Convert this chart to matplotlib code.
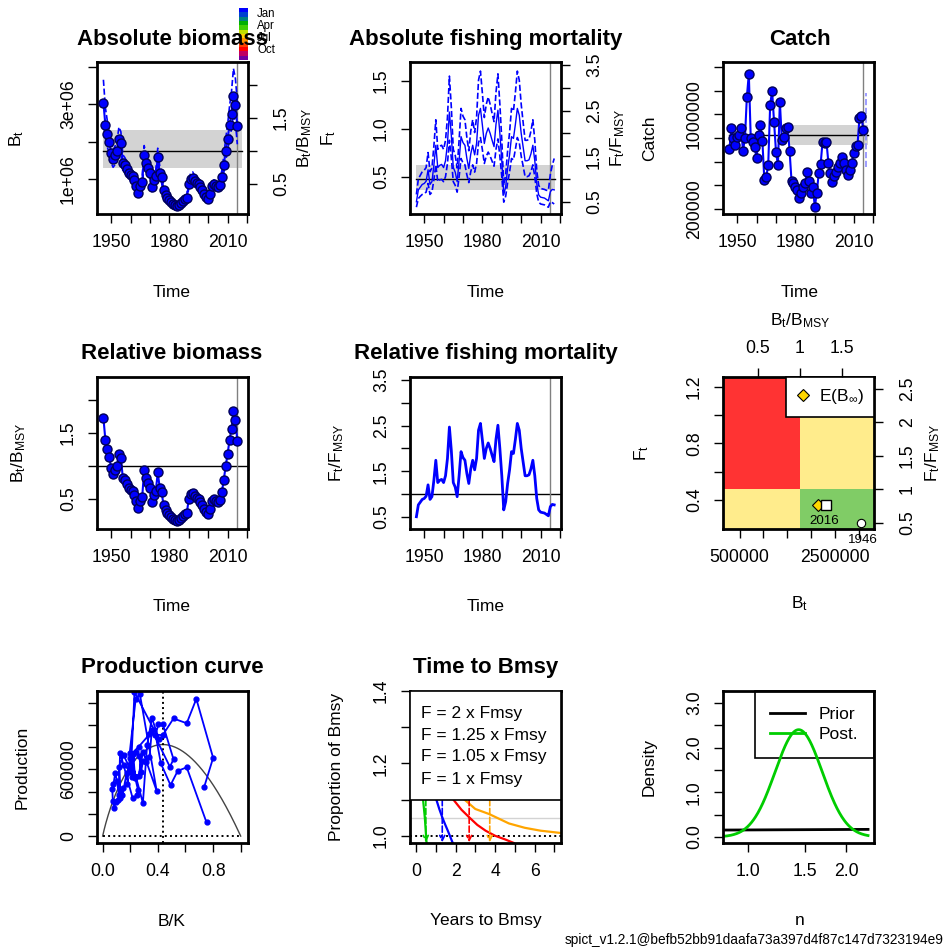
import numpy as np
import matplotlib
matplotlib.use('Agg')
import matplotlib.pyplot as plt
from matplotlib.lines import Line2D
from matplotlib.ticker import NullLocator

plt.rcParams['font.family'] = ['Liberation Sans', 'DejaVu Sans']
plt.rcParams['mathtext.fontset'] = 'custom'
plt.rcParams['mathtext.rm'] = 'Liberation Sans'
plt.rcParams['mathtext.it'] = 'Liberation Sans:italic'
plt.rcParams['mathtext.bf'] = 'Liberation Sans:bold'

W, H = 946, 949

# ---- data ----
years = np.arange(1946, 2016)
years_f = np.arange(1946, 2018)

# B/Bmsy estimate and CI
rel_b = [1.73, 1.40, 1.25, 1.13, 0.97, 0.88, 0.93, 1.00, 1.18, 1.12,
         0.82, 0.78, 0.73, 0.67, 0.64, 0.61, 0.55, 0.46, 0.36, 0.47,
         0.53, 0.94, 0.82, 0.74, 0.67, 0.45, 0.55, 0.62, 0.90, 0.67,
         0.60, 0.40, 0.33, 0.29, 0.25, 0.22, 0.19, 0.17, 0.16, 0.18,
         0.21, 0.24, 0.27, 0.29, 0.50, 0.57, 0.59, 0.54, 0.51, 0.49,
         0.45, 0.41, 0.34, 0.30, 0.27, 0.35, 0.47, 0.49, 0.46, 0.45,
         0.48, 0.60, 0.78, 1.00, 1.18, 1.40, 1.56, 1.84, 1.69, 1.38]
rel_b_hi = [2.08, 1.66, 1.46, 1.31, 1.12, 1.01, 1.07, 1.15, 1.36, 1.29,
            0.94, 0.90, 0.84, 0.77, 0.74, 0.70, 0.63, 0.53, 0.41, 0.54,
            0.61, 1.08, 0.94, 0.85, 0.77, 0.52, 0.63, 0.71, 1.04, 0.77,
            0.69, 0.46, 0.38, 0.33, 0.29, 0.25, 0.22, 0.20, 0.18, 0.21,
            0.24, 0.28, 0.31, 0.33, 0.58, 0.66, 0.68, 0.62, 0.59, 0.56,
            0.52, 0.47, 0.39, 0.35, 0.31, 0.40, 0.54, 0.56, 0.53, 0.52,
            0.55, 0.70, 0.92, 1.18, 1.40, 1.68, 1.90, 2.25, 2.10, 1.75]
rel_b_lo = [1.45, 1.19, 1.06, 0.96, 0.82, 0.75, 0.79, 0.85, 1.00, 0.95,
            0.70, 0.66, 0.62, 0.57, 0.54, 0.52, 0.47, 0.39, 0.31, 0.40,
            0.45, 0.80, 0.70, 0.63, 0.57, 0.38, 0.47, 0.53, 0.77, 0.57,
            0.51, 0.34, 0.28, 0.25, 0.21, 0.19, 0.16, 0.14, 0.14, 0.15,
            0.18, 0.20, 0.23, 0.25, 0.43, 0.48, 0.50, 0.46, 0.43, 0.42,
            0.38, 0.35, 0.29, 0.26, 0.23, 0.30, 0.40, 0.42, 0.39, 0.38,
            0.41, 0.51, 0.66, 0.85, 1.00, 1.19, 1.33, 1.56, 1.44, 1.10]

# F/Fmsy estimate and CI
rel_f = [0.50, 0.76, 0.82, 0.88, 0.90, 0.95, 1.20, 0.88, 0.94, 1.30,
         1.74, 1.25, 1.30, 1.32, 1.25, 1.40, 1.78, 2.47, 1.95, 1.25,
         1.15, 0.94, 1.40, 1.93, 1.80, 1.74, 1.45, 1.23, 1.55, 1.74,
         1.53, 1.78, 2.40, 2.55, 2.18, 1.78, 2.00, 2.12, 2.00, 1.85,
         1.71, 2.20, 2.51, 2.00, 1.40, 0.65, 0.83, 1.23, 1.53, 1.93,
         1.89, 2.20, 2.55, 2.40, 2.00, 1.70, 1.40, 1.40, 1.42, 1.55,
         1.74, 1.40, 0.90, 0.65, 0.60, 0.59, 0.58, 0.55, 0.52, 0.72,
         0.77, 0.76]
rel_f_hi = [0.66, 1.00, 1.08, 1.16, 1.19, 1.25, 1.58, 1.16, 1.24, 1.72,
            2.30, 1.65, 1.72, 1.74, 1.65, 1.85, 2.35, 3.26, 2.57, 1.65,
            1.52, 1.24, 1.85, 2.55, 2.38, 2.30, 1.91, 1.62, 2.05, 2.30,
            2.02, 2.35, 3.17, 3.37, 2.88, 2.35, 2.64, 2.80, 2.64, 2.44,
            2.26, 2.90, 3.31, 2.64, 1.85, 0.86, 1.10, 1.62, 2.02, 2.55,
            2.49, 2.90, 3.37, 3.17, 2.64, 2.24, 1.85, 1.85, 1.87, 2.05,
            2.30, 1.85, 1.19, 0.86, 0.79, 0.78, 0.77, 0.75, 0.75, 1.10,
            1.30, 1.45]
rel_f_lo = [0.38, 0.57, 0.62, 0.66, 0.68, 0.71, 0.90, 0.66, 0.71, 0.98,
            1.31, 0.94, 0.98, 0.99, 0.94, 1.05, 1.34, 1.85, 1.46, 0.94,
            0.86, 0.71, 1.05, 1.45, 1.35, 1.31, 1.09, 0.92, 1.16, 1.31,
            1.15, 1.34, 1.80, 1.91, 1.64, 1.34, 1.50, 1.59, 1.50, 1.39,
            1.28, 1.65, 1.88, 1.50, 1.05, 0.49, 0.62, 0.92, 1.15, 1.45,
            1.42, 1.65, 1.91, 1.80, 1.50, 1.28, 1.05, 1.05, 1.07, 1.16,
            1.31, 1.05, 0.68, 0.49, 0.45, 0.44, 0.43, 0.40, 0.38, 0.50,
            0.48, 0.45]

# catch (thousands)
catch_k = [704, 882, 797, 740, 811, 825, 882, 692, 797, 1150,
           1343, 797, 769, 726, 627, 825, 910, 774, 443, 472,
           571, 1080, 1201, 938, 684, 571, 1108, 783, 811, 882,
           896, 692, 438, 415, 381, 358, 288, 330, 387, 415,
           514, 438, 330, 381, 217, 330, 500, 579, 769, 760,
           769, 590, 500, 429, 477, 514, 556, 585, 641, 585,
           528, 486, 528, 590, 670, 732, 740, 967, 986, 868]
pred_catch_year = 2016.3
pred_catch_ci = [556000, 1179000]

# production (thousands), 1946-2014
prod_k = [123, 618, 586, 458, 653, 913, 1005, 1009, 691, 622,
          955, 709, 663, 673, 574, 719, 752, 598, 637, 578,
          1293, 869, 1060, 815, 297, 747, 1231, 1276, 406, 759,
          544, 569, 368, 345, 328, 305, 253, 312, 422, 468,
          567, 491, 365, 751, 340, 365, 412, 526, 734, 690,
          699, 467, 430, 376, 618, 725, 591, 532, 623, 638,
          739, 803, 915, 907, 1057, 1014, 1233, 703, 440]

# reference points
bmsy, bmsy_ci = 1.76e6, (1.29e6, 2.32e6)
fmsy, fmsy_ci = 0.475, (0.36, 0.62)
msy, msy_ci = 823000, (738000, 913000)
msy_band_start = 1977
last_obs = 2015
n_est, logn_mean, logn_sd = 1.43, 0.358, 0.166
bmsy_k = 0.435

# kobe end points
kobe_end_rel = (1.32, 0.76)
binf_rel = (1.22, 0.76)

# time to Bmsy curves
ttb_green_t = [0.34, 0.36, 0.45, 0.53, 0.55]
ttb_green_y = [1.12, 1.10, 1.05, 0.985, 0.975]
ttb_blue_t = [0.95, 1.03, 1.18, 1.33, 1.47, 1.61, 1.86]
ttb_blue_y = [1.12, 1.10, 1.074, 1.051, 1.032, 1.014, 0.98]
ttb_red_t = [1.8, 1.89, 2.3, 2.69, 3.1, 3.52, 4.0, 4.5, 4.95]
ttb_red_y = [1.115, 1.10, 1.072, 1.051, 1.03, 1.014, 1.0, 0.99, 0.98]
ttb_orange_t = [2.3, 2.45, 3.0, 3.7, 4.7, 5.5, 6.3, 7.35]
ttb_orange_y = [1.11, 1.10, 1.074, 1.06, 1.034, 1.022, 1.014, 1.0075]
ttb_dash_t = [0.5, 1.33, 2.69, 3.73]
ttb_labels = ['F = 2 x Fmsy', 'F = 1.25 x Fmsy', 'F = 1.05 x Fmsy', 'F = 1 x Fmsy']

prior_n = [0.84, 2.33]
prior_dens = [0.155, 0.17]

months = ['Jan', 'Apr', 'Jul', 'Oct']
month_cols = ['#0000FF', '#0040D0', '#008080', '#00B000', '#40D000', '#C0E000',
              '#FFD000', '#FF9000', '#FF4000', '#FF0000', '#C00060', '#7000A0']

BLUE = '#0000FF'
GREEN = '#00CD00'
time_ticks = [1950, 1960, 1970, 1980, 1990, 2000, 2010, 2020]
time_labels = ['1950', '', '', '1980', '', '', '2010', '']
time_lim = (1942.7, 2020.5)

fig = plt.figure(figsize=(W / 100, H / 100), dpi=100)


def box(l, t, w=151, h=152):
    return fig.add_axes([l / W, 1 - (t + h) / H, w / W, h / H])


def style(ax, twin=False):
    for sp in ax.spines.values():
        sp.set_linewidth(2)
        if twin:
            sp.set_visible(False)
    ax.tick_params(direction='out', length=6.5, width=1, pad=8, labelsize=12.7)
    if twin:
        ax.tick_params(axis='y', pad=11.5)


def yt(ax, vals, labels):
    ax.set_yticks(vals, labels, rotation=90, va='center')


def lab(x, y, s, rot=0, va='center', size=12.5):
    fig.text(x / W, 1 - y / H, s, ha='center', va=va, rotation=rot, fontsize=size)


def title(x, y, s):
    fig.text(x / W, 1 - y / H, s, ha='center', va='baseline', fontsize=16, fontweight='bold')


def point(ax, x, y):
    ax.plot(x, y, 'o', color=BLUE, mec=(0, 0, 0.35), mew=1, ms=6.5, zorder=4)


b = np.array(rel_b) * bmsy
f = np.array(rel_f) * fmsy
catch = np.array(catch_k) * 1000

# ---- 1: absolute biomass ----
ax1 = box(97, 62)
style(ax1)
ax1.fill_between([1946, 2017.4], *bmsy_ci, color='lightgray', lw=0)
ax1.plot([1946, 2017.4], [bmsy, bmsy], color='black', lw=1)
ax1.axvline(last_obs, color='gray', lw=1)
ax1.plot(years, np.array(rel_b_hi) * bmsy, '--', color=BLUE, lw=1.2)
ax1.plot(years, np.array(rel_b_lo) * bmsy, '--', color=BLUE, lw=1.2)
ax1.plot(years, b, color=BLUE, lw=1.5)
point(ax1, years, b)
ax1.set_xlim(*time_lim)
ax1.set_ylim(0.04 * bmsy, 2.35 * bmsy)
ax1.set_xticks(time_ticks, time_labels)
yt(ax1, [1e6, 2e6, 3e6, 4e6], ['1e+06', '', '3e+06', ''])
ax1r = ax1.twinx()
style(ax1r, twin=True)
ax1r.set_ylim(0.04, 2.35)
yt(ax1r, [0.5, 1, 1.5, 2], ['0.5', '', '1.5', ''])
title(172, 45, 'Absolute biomass')
lab(17, 138, r'$\mathrm{B_t}$', rot=90)
lab(305, 138, r'$\mathrm{B_t / B_{MSY}}$', rot=90)
lab(172, 297, 'Time', va='baseline')

# month colour key
cax = fig.add_axes([239 / W, 1 - 60 / H, 9 / W, 52 / H])
cax.imshow(np.array([matplotlib.colors.to_rgb(c) for c in month_cols])[:, None, :], aspect='auto')
cax.axis('off')
for m, yy in zip(months, [14, 26, 38, 50]):
    fig.text(257 / W, 1 - yy / H, m, ha='left', va='center', fontsize=8.3)

# ---- 2: absolute fishing mortality ----
ax2 = box(410, 62)
style(ax2)
ax2.fill_between([1946, 2017.4], *fmsy_ci, color='lightgray', lw=0)
ax2.plot([1946, 2017.4], [fmsy, fmsy], color='black', lw=1)
ax2.axvline(last_obs, color='gray', lw=1)
ax2.plot(years_f, np.array(rel_f_hi) * fmsy, '--', color=BLUE, lw=1.2)
ax2.plot(years_f, np.array(rel_f_lo) * fmsy, '--', color=BLUE, lw=1.2)
ax2.plot(years_f, f, color=BLUE, lw=1)
ax2.set_xlim(*time_lim)
ax2.set_ylim(0.23 * fmsy, 3.57 * fmsy)
ax2.set_xticks(time_ticks, time_labels)
yt(ax2, [0.5, 1.0, 1.5], ['0.5', '1.0', '1.5'])
ax2r = ax2.twinx()
style(ax2r, twin=True)
ax2r.set_ylim(0.23, 3.57)
yt(ax2r, [0.5, 1, 1.5, 2, 2.5, 3, 3.5], ['0.5', '', '1.5', '', '2.5', '', '3.5'])
title(486, 45, 'Absolute fishing mortality')
lab(329, 138, r'$\mathrm{F_t}$', rot=90)
lab(618, 138, r'$\mathrm{F_t / F_{MSY}}$', rot=90)
lab(486, 297, 'Time', va='baseline')

# ---- 3: catch ----
ax3 = box(723, 62)
style(ax3)
ax3.fill_between([msy_band_start, 2017.4], *msy_ci, color='lightgray', lw=0)
ax3.plot([1946, 2017.4], [msy, msy], color='black', lw=1)
ax3.axvline(last_obs, color='gray', lw=1)
ax3.plot([pred_catch_year] * 2, pred_catch_ci, '--', color=(0.55, 0.55, 1), lw=1.2)
ax3.plot(years, catch, color=BLUE, lw=1.5)
point(ax3, years, catch)
ax3.set_xlim(*time_lim)
ax3.set_ylim(155000, 1445000)
ax3.set_xticks(time_ticks, time_labels)
yt(ax3, [2e5, 4e5, 6e5, 8e5, 1e6, 1.2e6, 1.4e6], ['200000', '', '', '', '1000000', '', ''])
title(800, 45, 'Catch')
lab(650, 138, 'Catch', rot=90)
lab(800, 297, 'Time', va='baseline')

# ---- 4: relative biomass ----
ax4 = box(97, 377)
style(ax4)
ax4.axhline(1, color='black', lw=1)
ax4.axvline(last_obs, color='gray', lw=1)
ax4.plot(years, rel_b, color=BLUE, lw=1.5)
point(ax4, years, rel_b)
ax4.set_xlim(*time_lim)
ax4.set_ylim(0.04, 2.35)
ax4.set_xticks(time_ticks, time_labels)
yt(ax4, [0.5, 1, 1.5, 2], ['0.5', '', '1.5', ''])
title(172, 359, 'Relative biomass')
lab(19, 453, r'$\mathrm{B_t / B_{MSY}}$', rot=90)
lab(172, 611, 'Time', va='baseline')

# ---- 5: relative fishing mortality ----
ax5 = box(410, 377)
style(ax5)
ax5.axhline(1, color='black', lw=1)
ax5.axvline(last_obs, color='gray', lw=1)
ax5.plot(years_f, rel_f, color=BLUE, lw=2)
ax5.set_xlim(*time_lim)
ax5.set_ylim(0.23, 3.57)
ax5.set_xticks(time_ticks, time_labels)
yt(ax5, [0.5, 1, 1.5, 2, 2.5, 3, 3.5], ['0.5', '', '1.5', '', '2.5', '', '3.5'])
title(486, 359, 'Relative fishing mortality')
lab(337, 453, r'$\mathrm{F_t / F_{MSY}}$', rot=90)
lab(486, 611, 'Time', va='baseline')

# ---- 6: kobe ----
ax6 = box(723, 377)
style(ax6)
bx0, bx1 = 153000, 3.32e6
fy0, fy1 = 0.193, 1.271
ax6.fill_between([bx0, bmsy], fmsy, fy1, color='#FF3333', lw=0)
ax6.fill_between([bx0, bmsy], fy0, fmsy, color='#FFEC8C', lw=0)
ax6.fill_between([bmsy, bx1], fmsy, fy1, color='#FFEC8C', lw=0)
ax6.fill_between([bmsy, bx1], fy0, fmsy, color='#80CC66', lw=0)
end_b, end_f = kobe_end_rel[0] * bmsy, kobe_end_rel[1] * fmsy
inf_b, inf_f = binf_rel[0] * bmsy, binf_rel[1] * fmsy
ax6.annotate('', xy=(inf_b - 0.06e6, inf_f), xytext=(end_b, end_f),
             arrowprops=dict(arrowstyle='-|>', color='#B89000', lw=1, mutation_scale=8, shrinkA=0, shrinkB=0))
ax6.plot(inf_b, inf_f, 'D', mfc='gold', mec='black', mew=0.8, ms=6, zorder=5)
ax6.plot(end_b, end_f, 's', mfc='white', mec='black', mew=1, ms=6.5, zorder=5)
ax6.plot(b[0], f[0], 'o', mfc='white', mec='black', mew=0.8, ms=6, zorder=5)
ax6.annotate(str(years_f[-2]), (end_b, end_f), xytext=(-2, -16), textcoords='offset pixels',
             ha='center', va='center', fontsize=9.6, annotation_clip=False)
ax6.annotate(str(years[0]), (b[0], f[0]), xytext=(2, -17), textcoords='offset pixels',
             ha='center', va='center', fontsize=9.6, annotation_clip=False)
ax6.set_xlim(bx0, bx1)
ax6.set_ylim(fy0, fy1)
ax6.set_xticks([5e5, 1e6, 1.5e6, 2e6, 2.5e6, 3e6], ['500000', '', '', '', '2500000', ''])
yt(ax6, [0.4, 0.6, 0.8, 1.0, 1.2], ['0.4', '', '0.8', '', '1.2'])
leg = ax6.legend([Line2D([], [], ls='none', marker='D', mfc='gold', mec='black', mew=0.8, ms=6)],
                 [r'$\mathrm{E(B_{\infty})}$'], loc='upper right', borderaxespad=0, fancybox=False,
                 edgecolor='black', framealpha=1, fontsize=12.5, handlelength=0.8,
                 handletextpad=0.5, borderpad=0.6)
leg.get_frame().set_linewidth(1.2)
ax6t = ax6.twiny()
style(ax6t, twin=True)
ax6t.set_xlim(bx0 / bmsy, bx1 / bmsy)
ax6t.set_xticks([0.5, 1, 1.5], ['0.5', '1', '1.5'])
ax6r = ax6.twinx()
style(ax6r, twin=True)
ax6r.set_ylim(fy0 / fmsy, fy1 / fmsy)
yt(ax6r, [0.5, 1, 1.5, 2, 2.5], ['0.5', '1', '1.5', '2', '2.5'])
lab(800, 325, r'$\mathrm{B_t / B_{MSY}}$', va='baseline')
lab(800, 608, r'$\mathrm{B_t}$', va='baseline')
lab(642, 453, r'$\mathrm{F_t}$', rot=90)
lab(933, 453, r'$\mathrm{F_t / F_{MSY}}$', rot=90)

# ---- 7: production curve ----
ax7 = box(97, 691)
style(ax7)
bk_grid = np.linspace(0, 1, 300)
gamma = n_est ** (n_est / (n_est - 1)) / (n_est - 1)
ax7.plot(bk_grid, gamma * msy * (bk_grid - bk_grid ** n_est), color='#444444', lw=1)
ax7.axvline(bmsy_k, color='black', ls=':', lw=1.4)
ax7.plot([0, 1], [0, 0], color='black', ls=':', lw=1.4)
ax7.plot(np.array(rel_b[:-1]) * bmsy_k, np.array(prod_k) * 1000, '-o', color=BLUE, lw=1.3, ms=3.5)
ax7.set_xlim(-0.041, 1.053)
ax7.set_ylim(-62000, 1304000)
ax7.set_xticks([0, 0.2, 0.4, 0.6, 0.8, 1.0], ['0.0', '', '0.4', '', '0.8', ''])
yt(ax7, [0, 2e5, 4e5, 6e5, 8e5, 1e6, 1.2e6], ['0', '', '', '600000', '', '', ''])
title(172, 673, 'Production curve')
lab(22, 767, 'Production', rot=90)
lab(172, 926, 'B/K', va='baseline')

# ---- 8: time to Bmsy ----
ax8 = box(410, 691)
style(ax8)
ax8.axhline(1.0, color='black', ls=':', lw=1.4)
ax8.axhline(1.05, color='lightgray', lw=1)
for tt, yy, c in [(ttb_green_t, ttb_green_y, GREEN), (ttb_blue_t, ttb_blue_y, BLUE),
                  (ttb_red_t, ttb_red_y, 'red'), (ttb_orange_t, ttb_orange_y, 'orange')]:
    ax8.plot(tt, yy, color=c, lw=1.6)
for t, c in zip(ttb_dash_t, [GREEN, BLUE, 'red', 'orange']):
    ax8.annotate('', xy=(t, 0.982), xytext=(t, 1.1),
                 arrowprops=dict(arrowstyle='->', color=c, lw=1.2, ls='--', mutation_scale=9,
                                 shrinkA=0, shrinkB=0))
ax8.axhspan(1.1, 1.4, facecolor='white', edgecolor='black', lw=1.2, zorder=3)
for i, s in enumerate(ttb_labels):
    ax8.text(0.073, [0.849, 0.704, 0.566, 0.421][i], s, transform=ax8.transAxes,
             va='center', ha='left', fontsize=12.5, zorder=4)
ax8.set_xlim(-0.3, 7.33)
ax8.set_ylim(0.98, 1.40)
ax8.set_xticks(range(8), ['0', '', '2', '', '4', '', '6', ''])
yt(ax8, [1.0, 1.1, 1.2, 1.3, 1.4], ['1.0', '', '1.2', '', '1.4'])
title(486, 673, 'Time to Bmsy')
lab(336, 767, 'Proportion of Bmsy', rot=90)
lab(486, 925, 'Years to Bmsy', va='baseline')

# ---- 9: prior / posterior of n ----
ax9 = box(723, 691)
style(ax9)
ax9.set_xscale('log')
n_grid = np.exp(np.linspace(np.log(0.84), np.log(2.33), 300))
post = np.exp(-0.5 * ((np.log(n_grid) - logn_mean) / logn_sd) ** 2) / (logn_sd * np.sqrt(2 * np.pi))
ax9.plot(prior_n, prior_dens, color='black', lw=2)
ax9.plot(n_grid, post, color=GREEN, lw=2)
ax9.set_xlim(0.84, 2.43)
ax9.set_ylim(-0.135, 3.27)
ax9.xaxis.set_minor_locator(NullLocator())
ax9.set_xticks([1.0, 1.5, 2.0], ['1.0', '1.5', '2.0'])
yt(ax9, [0, 0.5, 1, 1.5, 2, 2.5, 3], ['0.0', '', '1.0', '', '2.0', '', '3.0'])
leg9 = ax9.legend([Line2D([], [], color='black', lw=2), Line2D([], [], color=GREEN, lw=2)],
                  ['Prior', 'Post.'], loc='upper right', borderaxespad=0, fancybox=False,
                  edgecolor='black', framealpha=1, fontsize=12.5, handlelength=2.0,
                  handletextpad=0.8, borderpad=0.9, labelspacing=0.3)
leg9.get_frame().set_facecolor('none')
leg9.get_frame().set_linewidth(1.2)
leg9.set_zorder(1)
lab(649, 767, 'Density', rot=90)
lab(800, 925, 'n', va='baseline')

fig.text(944 / W, 1 - 940 / H, 'spict_v1.2.1@befb52bb91daafa73a397d4f87c147d7323194e9',
         ha='right', va='center', fontsize=9.8)

fig.savefig('out.png', dpi=100)
